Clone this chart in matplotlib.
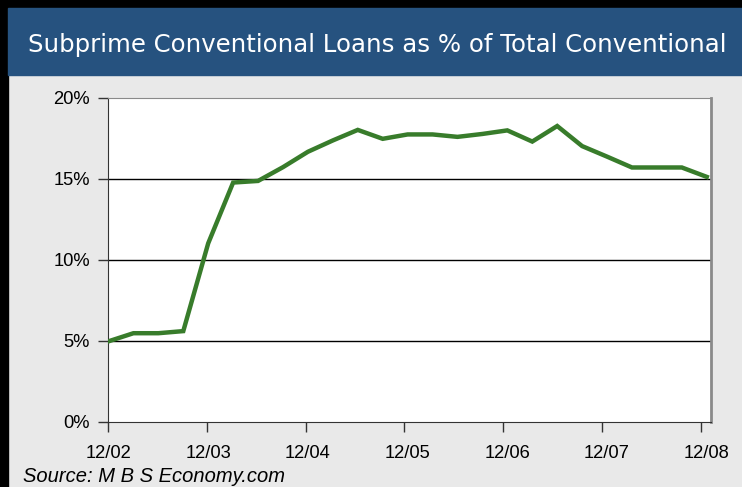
import matplotlib.pyplot as plt
from matplotlib.patches import Rectangle

# quarterly values, 12/02 .. 12/08
values = [4.95, 5.45, 5.45, 5.58, 11.0, 14.75, 14.85, 15.7, 16.65, 17.35,
          18.0, 17.45, 17.72, 17.72, 17.57, 17.75, 17.97, 17.28, 18.24, 17.0,
          16.35, 15.68, 15.68, 15.68, 15.1]
tick_labels = ["12/02", "12/03", "12/04", "12/05", "12/06", "12/07", "12/08"]
y_ticks = [0, 5, 10, 15, 20]

W, H = 742, 487
fig = plt.figure(figsize=(W / 100, H / 100), dpi=100)
fig.patch.set_facecolor("#e9e9e9")

# black frame strips and blue title bar
fig.patches.append(Rectangle((0, 0), 8 / W, 1, transform=fig.transFigure, color="black", zorder=0))
fig.patches.append(Rectangle((0, 1 - 8 / H), 1, 8 / H, transform=fig.transFigure, color="black", zorder=0))
fig.patches.append(Rectangle((8 / W, 1 - 75 / H), 1, 67 / H, transform=fig.transFigure,
                             color="#26527f", zorder=0))
fig.text(28 / W, 1 - 45 / H, "Subprime Conventional Loans as % of Total Conventional",
         color="white", fontsize=17.6, family="DejaVu Sans", ha="left", va="center")

ax = fig.add_axes([108 / W, 65.5 / H, 603 / W, 324 / H])
x = list(range(len(values)))
ax.plot(x, values, color="#387c2b", lw=3.2, solid_joinstyle="miter", zorder=3)

ax.set_xlim(0, 24.17)
ax.set_ylim(0, 20)
# labels sit under the points, tick marks slightly left of them
ax.set_xticks(range(0, 25, 4))
ax.set_xticklabels(tick_labels)
ax.set_xticks([-0.02 + 3.963 * k for k in range(7)], minor=True)
ax.tick_params(axis="x", which="major", length=0, pad=17)
ax.tick_params(axis="x", which="minor", direction="out", length=7, width=1, color="#333333")
ax.set_yticks(y_ticks)
ax.set_yticklabels([f"{v}%" for v in y_ticks])
ax.tick_params(axis="y", direction="out", length=7, width=1, color="#333333", pad=6)
for v in [5, 10, 15]:
    ax.axhline(v, color="black", lw=1, zorder=1)

ax.tick_params(labelsize=13.2)
for lab in ax.get_xticklabels() + ax.get_yticklabels():
    lab.set_family("Liberation Sans")
ax.spines["left"].set_color("#333333")
ax.spines["bottom"].set_color("#333333")
ax.spines["top"].set_color("#8a8a8a")
ax.spines["right"].set_color("#8a8a8a")
ax.spines["right"].set_linewidth(2)

fig.text(23 / W, 1 - 477 / H, "Source: M B S Economy.com", fontsize=14.5,
         style="italic", family="Liberation Sans", ha="left", va="center")

fig.savefig("out.png", dpi=100)
